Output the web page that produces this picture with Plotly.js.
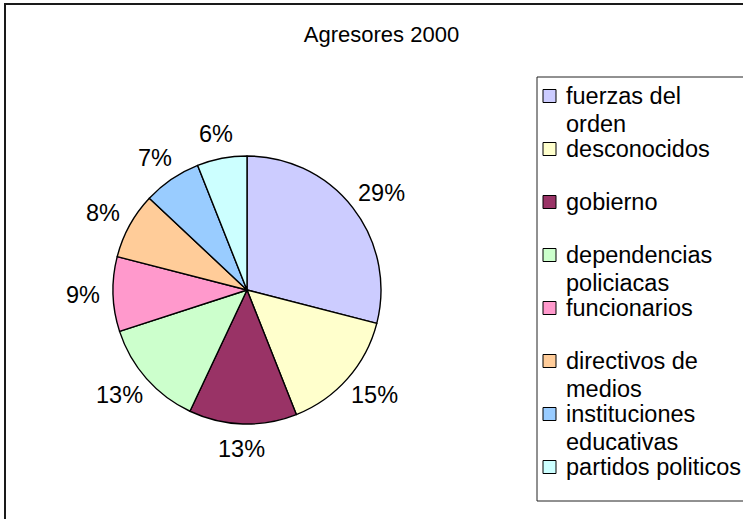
<!DOCTYPE html>
<html><head><meta charset="utf-8">
<script src="https://cdn.plot.ly/plotly-3.0.1.min.js"></script>
<style>html,body{margin:0;padding:0;background:#fff}#chart{width:743px;height:519px}</style>
</head><body><div id="chart"></div>
<script>
const categories = ['fuerzas del orden', 'desconocidos', 'gobierno', 'dependencias policiacas', 'funcionarios', 'directivos de medios', 'instituciones educativas', 'partidos politicos'];
const values = [29, 15, 13, 13, 9, 8, 7, 6];
const colors = ['#CCCCFF', '#FFFFCC', '#993366', '#CCFFCC', '#FF99CC', '#FFCC99', '#99CCFF', '#CCFFFF'];
const legendLabels = ['fuerzas del<br>orden', 'desconocidos', 'gobierno', 'dependencias<br>policiacas', 'funcionarios', 'directivos de<br>medios', 'instituciones<br>educativas', 'partidos politicos'];
const titleText = 'Agresores 2000';

const W = 743, H = 519;
const FONT = 'Liberation Sans, Arial, sans-serif';
const cx = 247, cy = 290, r = 134;
const px = x => x / W;
const py = y => 1 - y / H;

const shapes = [];
const annotations = [];

// outer chart border
shapes.push({type: 'rect', xref: 'paper', yref: 'paper', x0: px(5), x1: px(760), y0: py(535), y1: py(4),
  line: {color: '#1a1a1a', width: 2}, fillcolor: 'rgba(0,0,0,0)', layer: 'below'});
// legend box
shapes.push({type: 'rect', xref: 'paper', yref: 'paper', x0: px(537), x1: px(760), y0: py(501), y1: py(77),
  line: {color: '#222', width: 1}, fillcolor: 'rgba(0,0,0,0)'});

// legend entries
legendLabels.forEach((lab, i) => {
  const yc = 96 + i * 53;
  shapes.push({type: 'rect', xref: 'paper', yref: 'paper', x0: px(543), x1: px(556), y0: py(yc + 6.5), y1: py(yc - 6.5),
    fillcolor: colors[i], line: {color: '#000', width: 1}});
  lab.split('<br>').forEach((ln, j) => {
    annotations.push({xref: 'paper', yref: 'paper', x: px(564), y: py(yc + j * 28), xanchor: 'left', yanchor: 'middle',
      text: ln, showarrow: false, font: {family: FONT, size: 23.5, color: '#000'}});
  });
});

// percentage labels, placed radially from the data
const total = values.reduce((a, b) => a + b, 0);
let cum = 0;
values.forEach((v, i) => {
  const mid = (cum + v / 2) / total * 2 * Math.PI;
  cum += v;
  const ux = Math.sin(mid), uy = -Math.cos(mid);
  const txt = Math.round(v / total * 100) + '%';
  const w = (String(Math.round(v / total * 100)).length * 0.556 + 0.889) * 23.5;
  const R = r + 13;
  const x = cx + ux * R + ux * w / 2;
  const y = cy + uy * R + uy * 12;
  annotations.push({xref: 'paper', yref: 'paper', x: px(x), y: py(y), xanchor: 'center', yanchor: 'middle',
    text: txt, showarrow: false, font: {family: FONT, size: 23.5, color: '#000'}});
});

const data = [{
  type: 'pie',
  labels: categories,
  values: values,
  sort: false,
  direction: 'clockwise',
  rotation: 0,
  marker: {colors: colors, line: {color: '#000', width: 1.4}},
  textinfo: 'none',
  hoverinfo: 'label+percent',
  showlegend: false,
  domain: {x: [px(cx - r), px(cx + r)], y: [py(cy + r), py(cy - r)]}
}];

const layout = {
  width: W, height: H,
  margin: {l: 0, r: 0, t: 0, b: 0},
  paper_bgcolor: '#fff',
  showlegend: false,
  title: {text: titleText, x: px(381.5), xanchor: 'center', y: py(34), yanchor: 'middle',
    font: {family: FONT, size: 22, color: '#000'}},
  shapes: shapes,
  annotations: annotations
};

Plotly.newPlot('chart', data, layout, {staticPlot: true, displayModeBar: false});
</script>
</body></html>
